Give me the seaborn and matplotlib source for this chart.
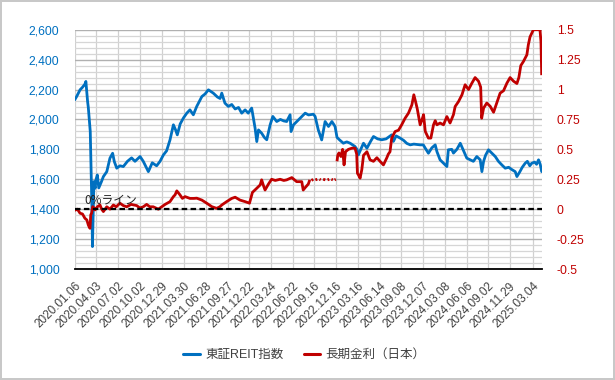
import matplotlib
matplotlib.use("Agg")
import matplotlib.pyplot as plt
import matplotlib.ticker as mticker
from matplotlib.lines import Line2D
import seaborn as sns
import pandas as pd
import numpy as np

# --- data --------------------------------------------------------------------
reit_dates = [
    "2020-01-06", "2020-01-14", "2020-01-21", "2020-01-28", "2020-02-07", "2020-02-17",
    "2020-02-21", "2020-02-28", "2020-03-02", "2020-03-06", "2020-03-10", "2020-03-13",
    "2020-03-17", "2020-03-19", "2020-03-23", "2020-03-25", "2020-03-30", "2020-04-03",
    "2020-04-08", "2020-04-14", "2020-04-24", "2020-05-03", "2020-05-17", "2020-05-30",
    "2020-06-10", "2020-06-17", "2020-06-27", "2020-07-10", "2020-07-24", "2020-08-10",
    "2020-08-27", "2020-09-10", "2020-10-01", "2020-10-14", "2020-10-28", "2020-11-04",
    "2020-11-20", "2020-12-08", "2020-12-22", "2021-01-05", "2021-01-18", "2021-02-01",
    "2021-02-15", "2021-02-24", "2021-03-03", "2021-03-15", "2021-03-28", "2021-04-11",
    "2021-04-24", "2021-05-08", "2021-05-22", "2021-06-12", "2021-06-25", "2021-07-09",
    "2021-07-29", "2021-08-15", "2021-08-26", "2021-09-02", "2021-09-15", "2021-09-29",
    "2021-10-13", "2021-10-27", "2021-11-10", "2021-11-23", "2021-12-07", "2021-12-20",
    "2022-01-03", "2022-01-10", "2022-01-17", "2022-01-24", "2022-01-31", "2022-02-13",
    "2022-02-24", "2022-03-06", "2022-03-20", "2022-03-31", "2022-04-16", "2022-05-01",
    "2022-05-15", "2022-05-27", "2022-06-10", "2022-06-14", "2022-06-24", "2022-07-10",
    "2022-07-28", "2022-08-11", "2022-08-25", "2022-09-14", "2022-09-21", "2022-10-04",
    "2022-10-18", "2022-11-01", "2022-11-15", "2022-11-29", "2022-12-12", "2022-12-20",
    "2022-12-30", "2023-01-15", "2023-01-29", "2023-02-12", "2023-03-04", "2023-03-12",
    "2023-03-18", "2023-03-25", "2023-04-08", "2023-04-22", "2023-05-06", "2023-05-19",
    "2023-06-05", "2023-06-22", "2023-07-10", "2023-08-02", "2023-08-09", "2023-08-20",
    "2023-09-06", "2023-09-20", "2023-10-03", "2023-10-17", "2023-11-01", "2023-11-27",
    "2023-12-10", "2023-12-18", "2023-12-31", "2024-01-14", "2024-01-28", "2024-02-04",
    "2024-02-17", "2024-03-02", "2024-03-16", "2024-03-22", "2024-04-05", "2024-04-12",
    "2024-04-26", "2024-05-10", "2024-05-24", "2024-06-06", "2024-06-20", "2024-07-03",
    "2024-07-17", "2024-07-31", "2024-08-07", "2024-08-14", "2024-08-22", "2024-09-03",
    "2024-09-17", "2024-10-01", "2024-10-14", "2024-10-28", "2024-11-11", "2024-11-25",
    "2024-12-08", "2024-12-22", "2024-12-29", "2025-01-10", "2025-01-20", "2025-02-01",
    "2025-02-10", "2025-02-20", "2025-02-28", "2025-03-12", "2025-03-20", "2025-03-28",
    "2025-04-04", "2025-04-10",
]
reit_values = [
    2131, 2153, 2175, 2198, 2215, 2236,
    2254, 2120, 2080, 2000, 1919, 1700,
    1400, 1150, 1450, 1584, 1540, 1600,
    1629, 1542, 1580, 1618, 1651, 1741,
    1774, 1718, 1674, 1690, 1685, 1720,
    1743, 1720, 1752, 1720, 1674, 1651,
    1710, 1690, 1720, 1763, 1790, 1863,
    1964, 1930, 1897, 1970, 2009, 2042,
    2064, 2031, 2087, 2153, 2170, 2198,
    2176, 2150, 2140, 2176, 2109, 2087,
    2100, 2070, 2080, 2042, 2064, 2042,
    2076, 2009, 1942, 1852, 1930, 1908,
    1880, 1864, 1964, 2020, 1986, 2000,
    1990, 1986, 2031, 1919, 1964, 1990,
    2020, 2042, 2030, 2035, 2020, 1930,
    1863, 1986, 1953, 1986, 1953, 1880,
    1864, 1841, 1850, 1841, 1819, 1800,
    1763, 1790, 1841, 1808, 1850, 1886,
    1870, 1864, 1870, 1897, 1853, 1890,
    1875, 1860, 1840, 1830, 1835, 1830,
    1830, 1808, 1774, 1810, 1830, 1785,
    1730, 1707, 1685, 1797, 1800, 1775,
    1800, 1841, 1790, 1741, 1730, 1720,
    1752, 1730, 1651, 1720, 1760, 1797,
    1775, 1752, 1720, 1696, 1674, 1680,
    1665, 1651, 1618, 1650, 1680, 1707,
    1720, 1690, 1707, 1715, 1700, 1730,
    1700, 1651,
]

jgb_dates = [
    "2020-01-06", "2020-01-17", "2020-01-28", "2020-02-07", "2020-02-17", "2020-02-25",
    "2020-03-02", "2020-03-06", "2020-03-09", "2020-03-12", "2020-03-16", "2020-03-20",
    "2020-03-25", "2020-03-30", "2020-04-08", "2020-04-19", "2020-04-26", "2020-05-03",
    "2020-05-17", "2020-05-30", "2020-06-13", "2020-06-25", "2020-07-10", "2020-07-24",
    "2020-08-07", "2020-08-25", "2020-09-17", "2020-09-30", "2020-10-14", "2020-10-28",
    "2020-11-10", "2020-11-24", "2020-12-15", "2020-12-29", "2021-01-12", "2021-02-01",
    "2021-02-15", "2021-02-22", "2021-03-01", "2021-03-14", "2021-03-24", "2021-04-04",
    "2021-04-24", "2021-05-10", "2021-05-22", "2021-06-12", "2021-07-02", "2021-07-23",
    "2021-08-12", "2021-08-25", "2021-09-02", "2021-09-22", "2021-10-13", "2021-10-27",
    "2021-11-16", "2021-12-07", "2021-12-25", "2022-01-06", "2022-01-24", "2022-02-07",
    "2022-02-13", "2022-02-20", "2022-02-27", "2022-03-13", "2022-03-26", "2022-04-10",
    "2022-04-30", "2022-05-15", "2022-05-27", "2022-06-17", "2022-07-07", "2022-07-28",
    "2022-08-03", "2022-08-11", "2022-08-24", "2022-08-30", "2022-09-01",
    "2022-09-06", "2022-09-13", "2022-09-15",
    "2022-09-22", "2022-09-30", "2022-10-02",
    "2022-10-09", "2022-10-14", "2022-10-16",
    "2022-10-24", "2022-11-02", "2022-11-04",
    "2022-11-11", "2022-11-18", "2022-11-20",
    "2022-11-27", "2022-12-03", "2022-12-05",
    "2022-12-10", "2022-12-15", "2022-12-18",
    "2022-12-20", "2022-12-23", "2022-12-28", "2023-01-05", "2023-01-12", "2023-01-18",
    "2023-01-24", "2023-02-05", "2023-02-20", "2023-03-04", "2023-03-11", "2023-03-14",
    "2023-03-18", "2023-03-25", "2023-04-01", "2023-04-08", "2023-04-22", "2023-05-05",
    "2023-05-19", "2023-06-02", "2023-06-15", "2023-06-29", "2023-07-13", "2023-07-19",
    "2023-07-26", "2023-08-02", "2023-08-16", "2023-08-30", "2023-09-12", "2023-09-26",
    "2023-10-10", "2023-10-24", "2023-11-01", "2023-11-08", "2023-11-15", "2023-11-27",
    "2023-12-05", "2023-12-11", "2023-12-18", "2023-12-31", "2024-01-10", "2024-01-21",
    "2024-01-28", "2024-02-04", "2024-02-17", "2024-03-02", "2024-03-16", "2024-03-29",
    "2024-04-12", "2024-04-19", "2024-05-03", "2024-05-17", "2024-05-30", "2024-06-13",
    "2024-06-27", "2024-07-10", "2024-07-24", "2024-08-02", "2024-08-06", "2024-08-14",
    "2024-08-27", "2024-09-10", "2024-09-24", "2024-10-07", "2024-10-21", "2024-11-04",
    "2024-11-18", "2024-12-01", "2024-12-15", "2024-12-29", "2025-01-06", "2025-01-14",
    "2025-01-25", "2025-02-08", "2025-02-14", "2025-02-21", "2025-03-07", "2025-03-18",
    "2025-03-28", "2025-04-03", "2025-04-07", "2025-04-10",
]
# None = no quote (the broken stretch in autumn 2022)
jgb_values = [
    -0.01, 0.0, -0.034, -0.04, -0.076, -0.09,
    -0.132, -0.15, -0.16, -0.048, -0.03, 0.021,
    0.01, -0.006, 0.02, 0.035, 0.0, -0.02,
    0.02, 0.0, 0.035, 0.02, 0.05, 0.03,
    0.02, 0.04, 0.03, 0.01, 0.02, 0.04,
    0.02, 0.02, 0.0, 0.02, 0.04, 0.063,
    0.105, 0.12, 0.153, 0.12, 0.09, 0.105,
    0.09, 0.09, 0.092, 0.076, 0.05, 0.021,
    0.007, 0.02, 0.035, 0.063, 0.09, 0.1,
    0.076, 0.063, 0.05, 0.14, 0.175, 0.203,
    0.245, 0.2, 0.16, 0.21, 0.25, 0.24,
    0.25, 0.24, 0.245, 0.264, 0.23, 0.23,
    0.16, 0.18, 0.21, 0.245, None,
    0.24, 0.25, None,
    0.245, 0.25, None,
    0.25, 0.245, None,
    0.25, 0.245, None,
    0.245, 0.25, None,
    0.25, 0.245, None,
    0.245, 0.25, None,
    0.40, 0.45, 0.47, 0.44, 0.50, 0.37,
    0.48, 0.50, 0.51, 0.51, 0.46, 0.30,
    0.287, 0.259, 0.33, 0.45, 0.48, 0.412,
    0.40, 0.43, 0.40, 0.37, 0.43, 0.46,
    0.48, 0.594, 0.649, 0.66, 0.705, 0.76,
    0.803, 0.872, 0.956, 0.90, 0.84, 0.705,
    0.75, 0.79, 0.65, 0.594, 0.594, 0.705,
    0.74, 0.705, 0.72, 0.705, 0.774, 0.72,
    0.79, 0.858, 0.90, 0.956, 1.04, 1.0,
    1.054, 1.10, 1.07, 1.02, 0.76, 0.845,
    0.887, 0.86, 0.81, 0.887, 0.97, 0.99,
    1.054, 1.10, 1.07, 1.05, 1.10, 1.20,
    1.235, 1.29, 1.374, 1.44, 1.50, 1.50,
    1.50, 1.50, 1.40, 1.12,
]

tick_labels = [
    "2020.01.06", "2020.04.03", "2020.07.02", "2020.10.02", "2020.12.29", "2021.03.30",
    "2021.06.28", "2021.09.27", "2021.12.22", "2022.03.24", "2022.06.22", "2022.09.16",
    "2022.12.16", "2023.03.16", "2023.06.14", "2023.09.08", "2023.12.07", "2024.03.08",
    "2024.06.06", "2024.09.02", "2024.11.29", "2025.03.04",
]

BLUE = "#0070C0"
RED = "#C00000"

# --- frames ---------------------------------------------------------------
reit = pd.DataFrame({"date": pd.to_datetime(reit_dates), "value": reit_values})
jgb = pd.DataFrame({"date": pd.to_datetime(jgb_dates),
                    "value": pd.to_numeric(pd.Series(jgb_values, dtype="object"))})
jgb["seg"] = jgb["value"].isna().cumsum()
jgb = jgb.dropna()

sns.set_style("white")
plt.rcParams["font.family"] = ["Liberation Sans", "Noto Sans CJK JP"]

fig = plt.figure(figsize=(6.15, 3.8), dpi=100)
fig.patch.set_edgecolor("#c8c8c8")
fig.patch.set_linewidth(1.5)
ax = fig.add_axes([74.7 / 615, 1 - 269 / 380, 467 / 615, 239.3 / 380])

sns.lineplot(data=reit, x="date", y="value", ax=ax, color=BLUE, lw=2.0)

ax2 = ax.twinx()
sns.lineplot(data=jgb, x="date", y="value", units="seg", estimator=None,
             ax=ax2, color=RED, lw=2.0, solid_capstyle="butt")

# 0% reference line
ax2.axhline(0, color="black", lw=1.6, dashes=(2.5, 1.5), zorder=5)
ax2.text(pd.Timestamp("2020-02-15"), 0.045, "0%ライン", fontsize=8.5,
         color="#222222", va="baseline", family=["Noto Sans CJK JP"])

# axes limits / ticks
ax.set_xlim(reit["date"].iloc[0], reit["date"].iloc[-1])
ax.set_ylim(1000, 2600)
ax2.set_ylim(-0.5, 1.5)

ax.set_yticks(np.arange(1000, 2601, 200))
ax.yaxis.set_minor_locator(mticker.MultipleLocator(40))
ax.yaxis.set_major_formatter(mticker.StrMethodFormatter("{x:,.0f}"))
ax2.set_yticks(np.arange(-0.5, 1.51, 0.25))
ax2.yaxis.set_major_formatter(mticker.FuncFormatter(lambda v, p: f"{v:g}"))

ax.set_xticks(pd.to_datetime(tick_labels, format="%Y.%m.%d"))
ax.set_xticklabels(tick_labels, rotation=45, ha="right", rotation_mode="anchor",
                   fontsize=8.5, color="#404040")

ax.tick_params(axis="y", which="both", length=0, labelsize=8.7, labelcolor=BLUE, pad=11)
ax.tick_params(axis="x", length=0, pad=8)
ax2.tick_params(axis="y", length=0, labelsize=8.7, labelcolor=RED, pad=11)

# gridlines: light minor rows, darker major rows, light columns
ax.yaxis.grid(True, which="minor", color="#d6d6d6", lw=0.9)
ax.yaxis.grid(True, which="major", color="#b0b0b0", lw=1.0)
ax.xaxis.grid(True, which="major", color="#d0d0d0", lw=0.9)
ax.set_axisbelow(True)

for side in ["left", "right", "top"]:
    ax.spines[side].set_visible(False)
    ax2.spines[side].set_visible(False)
ax2.spines["bottom"].set_visible(False)
ax.spines["bottom"].set_color("black")
ax.spines["bottom"].set_linewidth(1.3)

ax.set(xlabel="", ylabel="")
ax2.set(xlabel="", ylabel="")

handles = [Line2D([], [], color=BLUE, lw=2.2), Line2D([], [], color=RED, lw=2.2)]
fig.legend(handles, ["東証REIT指数", "長期金利（日本）"], loc="center",
           bbox_to_anchor=(0.495, 0.066), ncol=2, frameon=False, fontsize=9,
           handlelength=1.3, handletextpad=0.45, columnspacing=1.6,
           labelcolor="#404040")

fig.savefig("out.png", dpi=100)
